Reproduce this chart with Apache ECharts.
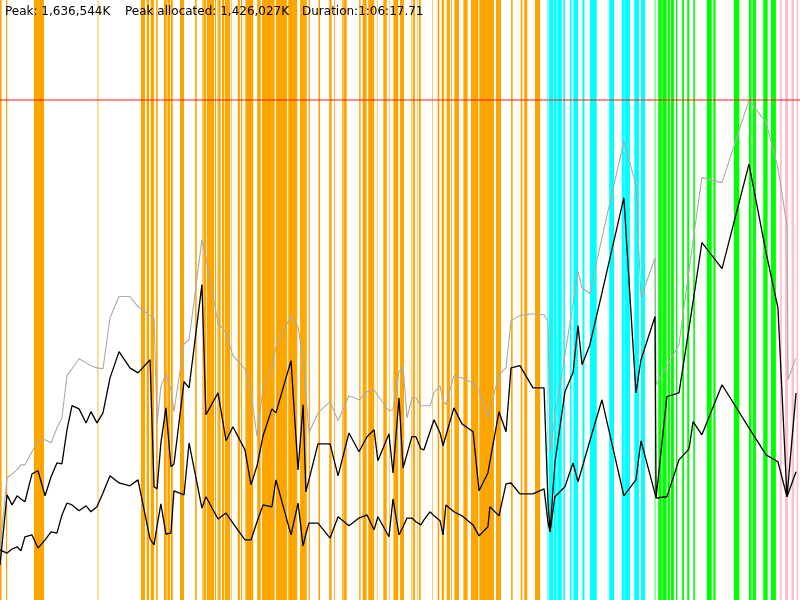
<!DOCTYPE html>
<html>
<head>
<meta charset="utf-8">
<title>Memory</title>
<script src="https://cdn.jsdelivr.net/npm/echarts@6/dist/echarts.min.js"></script>
<style>
  html, body { margin: 0; padding: 0; background: #fff; }
  #chart { width: 800px; height: 600px; }
</style>
</head>
<body>
<div id="chart"></div>
<script>
const peakK = 1636544;
const peakAllocatedK = 1426027;
const durationText = '1:06:17.71';
const durationSec = 3977.71;

// sample times in seconds
const times = [
  0, 35, 60, 85, 104, 124, 159, 189, 224, 254,
  283, 308, 333, 358, 393, 428, 452, 482, 512, 547,
  592, 646, 686, 746, 766, 781, 800, 825, 850, 865,
  915, 940, 1004, 1024, 1084, 1124, 1158, 1218, 1248, 1278,
  1308, 1352, 1372, 1447, 1482, 1507, 1521, 1536, 1581, 1641,
  1681, 1735, 1785, 1825, 1860, 1879, 1934, 1954, 1984, 2004,
  2024, 2048, 2068, 2093, 2108, 2138, 2158, 2188, 2203, 2217,
  2257, 2297, 2352, 2382, 2426, 2436, 2481, 2516, 2541, 2585,
  2650, 2705, 2725, 2735, 2759, 2809, 2849, 2874, 2894, 2933,
  2993, 3102, 3162, 3187, 3257, 3262, 3316, 3376, 3426, 3446,
  3490, 3590, 3724, 3809, 3868, 3913, 3918, 3958
];

// memory in MB
const heapMB = [
  166, 390, 403, 416, 432, 432, 474, 509, 512, 502,
  550, 582, 717, 739, 771, 758, 749, 742, 739, 902,
  970, 970, 938, 909, 902, 563, 682, 723, 672, 602,
  819, 832, 1152, 1094, 886, 854, 781, 739, 662, 522,
  682, 742, 810, 909, 874, 768, 656, 534, 598, 634,
  573, 653, 640, 666, 672, 653, 605, 608, 730, 746,
  582, 646, 646, 621, 621, 621, 662, 685, 637, 624,
  717, 710, 694, 669, 582, 608, 720, 742, 893, 909,
  915, 912, 890, 474, 582, 784, 947, 1050, 998, 979,
  1158, 1466, 1328, 966, 1094, 688, 749, 816, 1056, 1149,
  1350, 1334, 1598, 1526, 1382, 1194, 704, 774
];

const allocatedMB = [
  112, 336, 304, 333, 323, 314, 403, 413, 333, 394,
  438, 435, 544, 621, 611, 566, 602, 566, 598, 710,
  794, 742, 726, 768, 362, 355, 502, 614, 426, 435,
  698, 678, 1008, 592, 662, 509, 554, 480, 368, 429,
  525, 611, 598, 765, 416, 624, 346, 384, 499, 499,
  397, 534, 474, 522, 544, 445, 531, 406, 646, 422,
  467, 522, 522, 483, 480, 538, 576, 534, 493, 525,
  614, 563, 538, 349, 406, 442, 602, 538, 742, 749,
  678, 678, 310, 218, 438, 666, 726, 877, 752, 816,
  982, 1286, 662, 768, 906, 326, 650, 662, 870, 954,
  1142, 1059, 1393, 1110, 934, 330, 330, 662
];

const afterGcMB = [
  160, 150, 163, 170, 157, 202, 208, 166, 192, 218,
  214, 272, 310, 304, 285, 301, 282, 298, 342, 397,
  374, 365, 384, 195, 176, 237, 307, 211, 214, 349,
  336, 502, 294, 330, 259, 278, 246, 192, 192, 250,
  304, 298, 384, 208, 310, 173, 211, 246, 246, 198,
  266, 237, 262, 272, 224, 266, 202, 323, 208, 234,
  262, 262, 250, 240, 256, 282, 269, 253, 208, 304,
  282, 269, 240, 205, 234, 298, 269, 371, 374, 339,
  339, 355, 246, 218, 330, 362, 438, 378, 422, 509,
  640, 333, 384, 509, 339, 326, 330, 448, 483, 570,
  528, 688, 550, 464, 442, 330, 330, 410
];

// event bands [start s, end s]
const orangeBands = [
  [0, 8], [30, 36], [169, 219], [485, 489],
  [701, 721], [729, 741], [749, 766], [776, 784], [815, 829], [832, 845], [849, 859], [895, 915], [970, 978],
  [1005, 1008], [1011, 1024], [1028, 1064], [1069, 1074], [1081, 1084], [1085, 1097], [1104, 1115], [1119, 1144], [1149, 1152],
  [1182, 1193], [1198, 1204], [1220, 1259], [1279, 1296], [1303, 1366], [1372, 1428], [1433, 1478], [1492, 1525], [1535, 1541],
  [1583, 1591], [1637, 1649], [1661, 1665], [1700, 1704], [1707, 1724], [1786, 1793], [1803, 1823], [1831, 1860], [1874, 1877],
  [1906, 1923], [1934, 1937], [1956, 1980], [1989, 2009], [2044, 2047], [2052, 2063], [2076, 2079], [2083, 2092], [2148, 2150],
  [2176, 2184], [2196, 2208], [2221, 2237], [2243, 2247], [2259, 2282], [2304, 2325], [2342, 2378], [2383, 2456], [2466, 2491],
  [2541, 2549], [2589, 2597], [2607, 2622], [2660, 2685]
];
const cyanBands = [
  [2722, 2726], [2730, 2751], [2754, 2768], [2771, 2793], [2801, 2809], [2834, 2842], [2851, 2874], [2896, 2906], [2933, 2967],
  [3029, 3053], [3091, 3102], [3104, 3132], [3154, 3177], [3187, 3207]
];
const greenBands = [
  [3255, 3259], [3273, 3290], [3293, 3315], [3320, 3331], [3336, 3351], [3361, 3368], [3392, 3401], [3417, 3427], [3447, 3455],
  [3514, 3539], [3547, 3558], [3649, 3676], [3724, 3737], [3742, 3759], [3795, 3817], [3833, 3858]
];
const pinkBands = [[3878, 3887], [3903, 3919], [3936, 3948], [3961, 3969]];

const peakMB = peakK / 1024;
const chart = echarts.init(document.getElementById('chart'));

function fmtK(v) {
  return String(v).replace(/\B(?=(\d{3})+(?!\d))/g, ',') + 'K';
}

// full-height stripe between two times
function renderBand(params, api) {
  const a = api.coord([api.value(0), 0]);
  const b = api.coord([api.value(1), 0]);
  return {
    type: 'rect',
    shape: { x: a[0], y: params.coordSys.y, width: Math.max(b[0] - a[0], 0.6), height: params.coordSys.height },
    style: { fill: api.visual('color') }
  };
}

function bandSeries(name, bands, color) {
  return {
    name, type: 'custom', renderItem: renderBand, data: bands,
    encode: { x: [0, 1] }, itemStyle: { color }, silent: true, z: 1
  };
}

function lineSeries(name, values, color, width) {
  return {
    name, type: 'line', data: times.map((t, i) => [t, values[i]]),
    showSymbol: false, silent: true,
    lineStyle: { width, color }, itemStyle: { color }, z: 3
  };
}

const heap = lineSeries('Heap', heapMB, '#aaaaaa', 1.1);
heap.markLine = {
  silent: true, symbol: 'none', label: { show: false },
  lineStyle: { color: 'rgba(255, 0, 0, 0.6)', width: 1.5, type: 'solid' },
  data: [{ yAxis: peakMB }]
};

const textFont = '12px "DejaVu Sans"';

const option = {
  animation: false,
  backgroundColor: '#fff',
  grid: { left: 0, right: 0, top: 0, bottom: 0 },
  xAxis: { type: 'value', min: 0, max: durationSec, show: false },
  yAxis: { type: 'value', min: 0, max: peakMB * 1.2, show: false },
  graphic: [
    { type: 'text', left: 5, top: 6, z: 10, style: { text: 'Peak: ' + fmtK(peakK), font: textFont, fill: '#000' } },
    { type: 'text', left: 125, top: 6, z: 10, style: { text: 'Peak allocated: ' + fmtK(peakAllocatedK), font: textFont, fill: '#000' } },
    { type: 'text', left: 302, top: 6, z: 10, style: { text: 'Duration:' + durationText, font: textFont, fill: '#000' } }
  ],
  series: [
    bandSeries('orange', orangeBands, '#ffa500'),
    bandSeries('cyan', cyanBands, '#00ffff'),
    bandSeries('green', greenBands, '#00ff00'),
    bandSeries('pink', pinkBands, '#ffc0cb'),
    heap,
    lineSeries('Allocated', allocatedMB, '#000', 1.3),
    lineSeries('After GC', afterGcMB, '#000', 1.3)
  ]
};

chart.setOption(option);
</script>
</body>
</html>
